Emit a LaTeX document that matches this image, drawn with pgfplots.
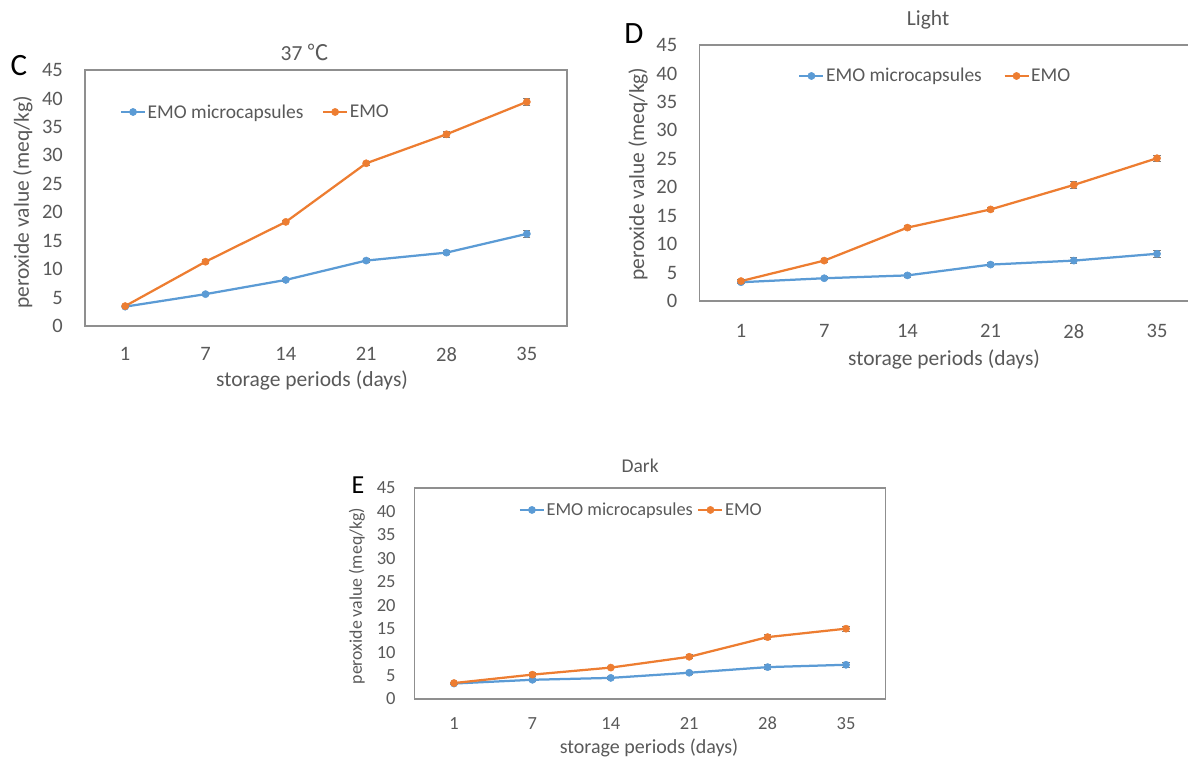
\documentclass[border=0pt]{standalone}
\usepackage{pgfplots}
\pgfplotsset{compat=1.18}
\usepackage{fontspec}
\setmainfont{Carlito}
\newfontfamily\cjk{Noto Sans CJK SC}
\definecolor{emoblue}{HTML}{5B9BD5}
\definecolor{emoorange}{HTML}{ED7D31}
\definecolor{txt}{HTML}{595959}
\definecolor{framegray}{HTML}{8F8F8F}
\definecolor{errgray}{HTML}{7F7F7F}
\pgfplotsset{
  panel/.style={
    scale only axis, clip=false,
    xmin=-0.5, xmax=5.5, ymin=0, ymax=45,
    ytick={0,5,...,45}, xtick={0,...,5}, xticklabels={1,7,14,21,28,35},
    axis line style={draw=framegray, line width=1.1pt},
    major tick length=0pt,
    /pgf/number format/assume math mode=true,
    tick label style={text=txt, inner sep=0pt},
    label style={text=txt},
    legend cell align=left,
    legend image code/.code={\draw[mark repeat=2,mark phase=2,##1] plot coordinates {(0pt,0pt) (12pt,0pt) (24pt,0pt)};},
  },
  ser/.style={color=#1, line width=2.25pt, mark=*, mark size=3.6pt, mark options={solid, fill=#1, draw=#1, line width=0.5pt},
    error bars/.cd, y dir=both, y explicit,
    error bar style={color=errgray, line width=1pt},
    error mark options={rotate=90, mark size=3.6pt, color=errgray, line width=1pt}},
}
\begin{document}
\begin{tikzpicture}
% ---------- C ----------
\begin{axis}[panel, at={(85pt,430pt)}, anchor=south west, width=482pt, height=256pt,
  tick label style={font=\fontsize{20.5}{24}\selectfont},
  yticklabel style={xshift=-22pt}, xticklabel style={yshift=-21pt},
  xlabel={storage periods (days)}, ylabel={peroxide value (meq/kg)},
  label style={font=\fontsize{21.5}{25}\selectfont},
  xlabel style={at={(axis description cs:0.471,-0.211)}, anchor=center},
  ylabel style={at={(axis description cs:-0.129,0.484)}, anchor=center},
  legend columns=2,
  legend style={draw=none, fill=none, at={(axis description cs:0.353,0.836)}, anchor=center, text=txt,
    font=\fontsize{19.5}{23}\selectfont, nodes={inner sep=1.5pt},
    /tikz/every even column/.append style={column sep=17pt}},
]
\addplot[ser=emoblue] table[x=x,y=y,y error=e] {
x y e
0 3.4 0.2
1 5.6 0.3
2 8.1 0.3
3 11.5 0.4
4 12.9 0.4
5 16.2 0.6
};
\addlegendentry{EMO microcapsules}
\addplot[ser=emoorange] table[x=x,y=y,y error=e] {
x y e
0 3.5 0.2
1 11.3 0.4
2 18.3 0.3
3 28.6 0.4
4 33.7 0.5
5 39.4 0.6
};
\addlegendentry{EMO}
\node[font=\fontsize{21.5}{25}\selectfont, text=txt] at (axis description cs:0.456,1.07) {37 {\cjk ℃}};
\node[font=\fontsize{31}{34}\selectfont, text=black] at (axis description cs:-0.137,1.016) {C};
\end{axis}
% ---------- D ----------
\begin{axis}[panel, at={(699.4pt,455pt)}, anchor=south west, width=499.2pt, height=256pt,
  tick label style={font=\fontsize{20.5}{24}\selectfont},
  yticklabel style={xshift=-22pt}, xticklabel style={yshift=-23pt},
  xlabel={storage periods (days)}, ylabel={peroxide value (meq/kg)},
  label style={font=\fontsize{21.5}{25}\selectfont},
  xlabel style={at={(axis description cs:0.49,-0.227)}, anchor=center},
  ylabel style={at={(axis description cs:-0.123,0.496)}, anchor=center},
  legend columns=2,
  legend style={draw=none, fill=none, at={(axis description cs:0.472,0.879)}, anchor=center, text=txt,
    font=\fontsize{19.5}{23}\selectfont, nodes={inner sep=1.5pt},
    /tikz/every even column/.append style={column sep=20pt}},
]
\addplot[ser=emoblue] table[x=x,y=y,y error=e] {
x y e
0 3.3 0.2
1 4.0 0.3
2 4.5 0.3
3 6.4 0.4
4 7.1 0.5
5 8.3 0.6
};
\addlegendentry{EMO microcapsules}
\addplot[ser=emoorange] table[x=x,y=y,y error=e] {
x y e
0 3.5 0.2
1 7.1 0.4
2 12.9 0.3
3 16.1 0.4
4 20.4 0.6
5 25.1 0.5
};
\addlegendentry{EMO}
\node[font=\fontsize{21.5}{25}\selectfont, text=txt] at (axis description cs:0.458,1.098) {Light};
\node[font=\fontsize{31}{34}\selectfont, text=black] at (axis description cs:-0.131,1.043) {D};
\end{axis}
% ---------- E ----------
\begin{axis}[panel, at={(414.8pt,57pt)}, anchor=south west, width=470.4pt, height=211pt,
  tick label style={font=\fontsize{18.5}{22}\selectfont},
  yticklabel style={xshift=-19pt}, xticklabel style={yshift=-18pt},
  xlabel={storage periods (days)}, ylabel={peroxide value (meq/kg)},
  xlabel style={at={(axis description cs:0.498,-0.23)}, anchor=center, font=\fontsize{20}{24}\selectfont},
  ylabel style={at={(axis description cs:-0.123,0.488)}, anchor=center, font=\fontsize{17.8}{21}\selectfont},
  legend columns=2,
  legend style={draw=none, fill=none, at={(axis description cs:0.481,0.896)}, anchor=center, text=txt,
    font=\fontsize{18.3}{22}\selectfont, nodes={inner sep=1.5pt},
    /tikz/every even column/.append style={column sep=3pt}},
]
\addplot[ser=emoblue] table[x=x,y=y,y error=e] {
x y e
0 3.3 0.2
1 4.1 0.3
2 4.5 0.3
3 5.6 0.3
4 6.8 0.5
5 7.3 0.5
};
\addlegendentry{EMO microcapsules}
\addplot[ser=emoorange] table[x=x,y=y,y error=e] {
x y e
0 3.4 0.2
1 5.2 0.4
2 6.7 0.3
3 9.0 0.4
4 13.2 0.5
5 15.0 0.5
};
\addlegendentry{EMO}
\node[font=\fontsize{19.5}{23}\selectfont, text=txt] at (axis description cs:0.479,1.104) {Dark};
\node[font=\fontsize{26}{29}\selectfont, text=black] at (axis description cs:-0.121,1.014) {E};
\end{axis}
\pgfresetboundingbox
\path[use as bounding box] (0pt,0pt) rectangle (1188pt,756pt);
\end{tikzpicture}
\end{document}
